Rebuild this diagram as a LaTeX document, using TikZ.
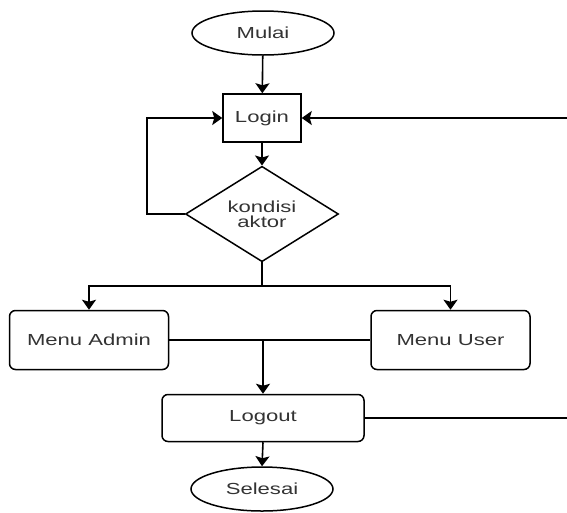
\documentclass[tikz,border=0pt]{standalone}
\usepackage{fontspec}
\setmainfont[FakeStretch=1.38]{Liberation Sans}
\usetikzlibrary{shapes.geometric,arrows.meta}
\definecolor{txt}{HTML}{333333}
\tikzset{
  base/.style={draw=black, line width=1.5pt, text=txt, font=\fontsize{16}{16}\selectfont, align=center, inner sep=0pt},
  term/.style={base, ellipse, minimum width=142pt, minimum height=44pt},
  proc/.style={base, rectangle, minimum width=78pt, minimum height=48pt},
  rproc/.style={base, rectangle, rounded corners=6pt},
  decide/.style={base, diamond, minimum width=153pt, minimum height=94pt},
  flow/.style={line width=1.6pt, -{Stealth[length=10pt,width=14pt,inset=2pt]}},
  link/.style={line width=1.6pt}
}
\begin{document}
\begin{tikzpicture}[x=1pt,y=-1pt]
\useasboundingbox (0,0) rectangle (567,512);

\node[term] (mulai) at (263,33) {Mulai};
\node[proc] (login) at (262,118) {Login};
\node[decide] (kond) at (262,214) {kondisi\\[-1pt]aktor};
\node[rproc, minimum width=159pt, minimum height=59pt] (admin) at (89,340) {Menu Admin};
\node[rproc, minimum width=159pt, minimum height=59pt] (user) at (450.5,340) {Menu User};
\node[rproc, minimum width=202pt, minimum height=47pt] (logout) at (263,418) {Logout};
\node[term] (selesai) at (262,489) {Selesai};

\coordinate (loopL) at (147,214);
\coordinate (backIn) at (567,118);
\coordinate (split) at (262,286);
\coordinate (merge) at (263,340);
\coordinate (backOut) at (567,418);

\draw[flow] (mulai) -- (login);
\draw[flow] (login) -- (kond);
\draw[flow] (kond.west) -- (loopL) |- (login.west);
\draw[flow] (backIn) -- (login.east);
\draw[link] (kond.south) -- (split);
\draw[flow] (split) -| (admin.north);
\draw[flow] (split) -| (user.north);
\draw[link] (admin.east) -- (user.west);
\draw[flow] (merge) -- (logout.north);
\draw[link] (logout.east) -- (backOut);
\draw[flow] (logout.south) -- (selesai.north);
\end{tikzpicture}
\end{document}
